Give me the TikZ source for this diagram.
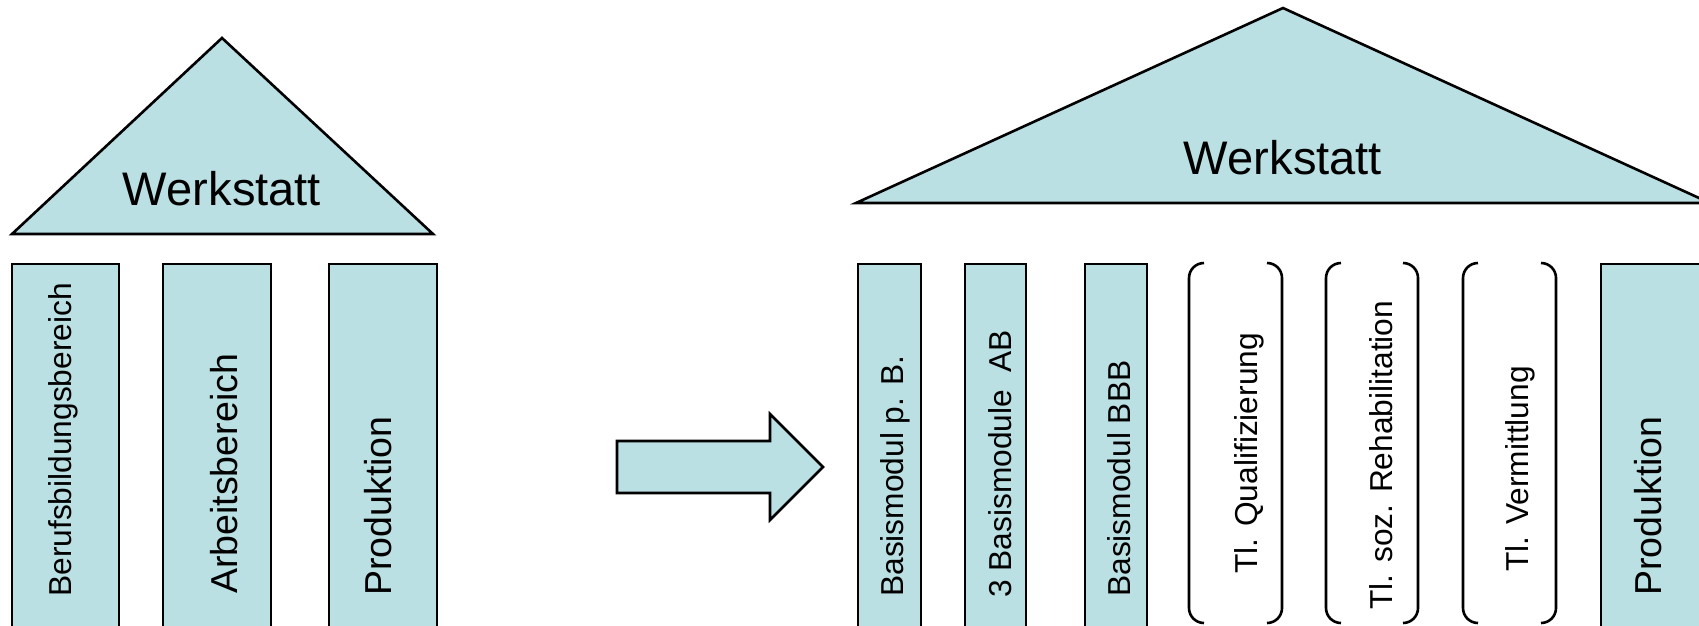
\documentclass[tikz,border=0pt]{standalone}
\usepackage{fontspec}
\setmainfont{Liberation Sans}
\usetikzlibrary{positioning}
\definecolor{roofcyan}{RGB}{186,224,227}

\begin{document}
\begin{tikzpicture}[%
    ,x=1pt,y=-1pt
    ,line width=2.6pt
    ,roof/.style = {draw, fill=roofcyan, line join=miter}
    ,pillar/.style = {%
        ,draw, fill=roofcyan
        ,inner sep=0pt, outer sep=0pt
        ,anchor=north west
        ,minimum height=380pt
        }
    ,bracketbox/.style = {%
        ,inner sep=0pt, outer sep=0pt
        ,anchor=north west
        ,minimum height=360pt
        }
    ,coltext/.style = {rotate=90, anchor=base west, inner sep=0pt, font=\fontsize{31.7}{38}\selectfont}
    ,bigtext/.style = {coltext, font=\fontsize{37.5}{45}\selectfont}
    ,rooftext/.style = {anchor=base, inner sep=0pt, font=\fontsize{47.1}{56}\selectfont}
    ]
\useasboundingbox (0,0) rectangle (1699,625);
\clip (0,0) rectangle (1699,625);

% old house
\draw[roof] (12,234) -- (222,38) -- (433,234) -- cycle;
\node (lroof) [rooftext] at (222,205) {Werkstatt};
\foreach \xl/\pw [count=\i from 1] in {12/107, 163/108, 329/108}
    \node (lp\i) [pillar, minimum width=\pw pt] at (\xl,264) {};
\node (lt1) [coltext] at (71,598) {Berufsbildungsbereich};
\node (lt2) [bigtext] at (237,595) {Arbeitsbereich};
\node (lt3) [bigtext] at (391,597) {Produktion};

% arrow
\draw[roof] (617,441) -- (770,441) -- (770,414) -- (823,467) -- (770,520) -- (770,493) -- (617,493) -- cycle;

% new house
\draw[roof] (856,203) -- (1283,8) -- (1710,203) -- cycle;
\node (rroof) [rooftext] at (1283,174) {Werkstatt};
\foreach \xl/\pw [count=\i from 1] in {858/63, 965/61, 1085/62, 1601/110}
    \node (rp\i) [pillar, minimum width=\pw pt] at (\xl,264) {};

% offers with brackets
\foreach \xl/\pw [count=\i from 1] in {1189/93, 1326/92, 1463/93}
{
    \node (b\i) [bracketbox, minimum width=\pw pt] at (\xl,263) {};
    \draw[rounded corners=15pt] ([xshift=15pt]b\i.north west) -- (b\i.north west)
        -- (b\i.south west) -- ([xshift=15pt]b\i.south west);
    \draw[rounded corners=15pt] ([xshift=-15pt]b\i.north east) -- (b\i.north east)
        -- (b\i.south east) -- ([xshift=-15pt]b\i.south east);
}

\foreach \xb/\yb/\txt [count=\i from 1] in
{
    903/598/Basismodul p. B.,
    1011/599/3 Basismodule\ \ AB,
    1130/598/Basismodul BBB,
    1257/575/Tl. Qualifizierung,
    1392/611/Tl. soz. Rehabilitation,
    1528/573/Tl. Vermittlung
}
    \node (rt\i) [coltext] at (\xb,\yb) {\txt};
\node (rt7) [bigtext] at (1661,597) {Produktion};
\end{tikzpicture}
\end{document}
